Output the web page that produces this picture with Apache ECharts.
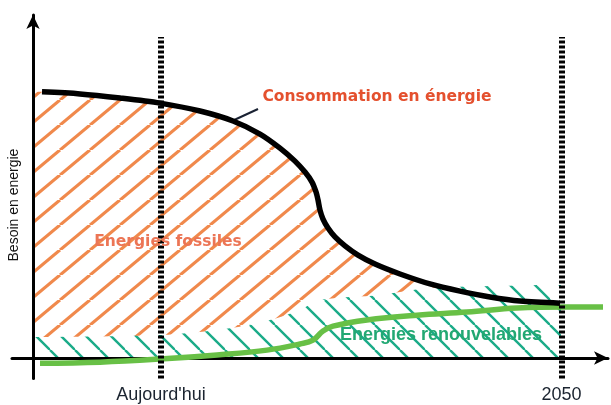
<!DOCTYPE html>
<html><head><meta charset="utf-8">
<script src="https://cdn.jsdelivr.net/npm/echarts@6/dist/echarts.min.js"></script>
<style>html,body{margin:0;padding:0;background:#fff}#c{width:611px;height:405px}</style>
</head><body><div id="c"></div>
<script>
// x: time (arbitrary units, 0 = y-axis), y: energy need (arbitrary units)
const consumptionX = [0.9, 4.7, 8.7, 12.7, 16.7, 20.0, 22.7, 24.7, 26.2, 27.2, 27.9, 28.3, 28.5, 28.7, 29.0, 29.5, 30.2, 31.2, 32.5, 34.2, 36.7, 39.7, 42.7, 45.7, 48.7, 52.7];
const consumptionY = [77.6, 77.0, 75.8, 74.3, 72.0, 69.1, 65.3, 61.2, 57.4, 54.2, 51.3, 48.4, 46.1, 43.1, 40.5, 37.9, 35.3, 32.7, 30.0, 27.4, 24.5, 21.6, 19.5, 17.8, 16.6, 16.0];
const fossilStartX = [0];
const fossilStartY = [77.8];
const renewAreaX = [0, 12.7, 19.7, 23.7, 26.7, 28.7, 34.7, 39.7, 45.7, 52.8, 52.8];
const renewAreaY = [6.1, 6.7, 8.7, 11.1, 14.0, 16.9, 18.4, 20.4, 21.0, 21.3, 0];
const renewX = [0.7, 6.7, 12.7, 18.4, 23.4, 26.7, 28.0, 29.0, 30.0, 33.4, 38.4, 43.4, 48.4, 53.4, 57.0];
const renewY = [-1.5, -1.2, -0.3, 0.9, 2.3, 4.1, 5.2, 7.9, 9.3, 11.1, 12.5, 13.4, 14.6, 14.9, 14.9];
const markerLabels = ["Aujourd'hui", "2050"];
const markerX = [12.8, 52.85];
const markerYRange = [-6, 93.6];
const yAxisName = "Besoin en energie";
const yAxisNamePos = [-1.9, 44.6];
const annotationTexts = ["Consommation en énergie", "Energies fossiles", "Energies renouvelables"];
const annotationX = [34.4, 13.5, 40.8];
const annotationY = [76.1, 33.8, 6.7];
const leaderX = [19.9, 22.5];
const leaderY = [69.1, 72.6];

function zip(xs, ys) { return xs.map((x, i) => [x, ys[i]]); }
function hatch(w, h, color, lw, rising, bg) {
  const c = document.createElement('canvas'); c.width = w; c.height = h;
  const g = c.getContext('2d');
  if (bg) { g.fillStyle = bg; g.fillRect(0, 0, w, h); }
  g.strokeStyle = color; g.lineWidth = lw;
  for (let k = -1; k <= 1; k++) {
    g.beginPath();
    if (rising) { g.moveTo(k * w, h); g.lineTo(k * w + w, 0); }
    else { g.moveTo(k * w, 0); g.lineTo(k * w + w, h); }
    g.stroke();
  }
  return c;
}
const orangePat = { image: hatch(30, 25, '#f0894c', 3.2, true, null), repeat: 'repeat' };
const greenPat = { image: hatch(25, 25, '#1aab88', 2.4, false, '#ffffff'), repeat: 'repeat' };

const consumption = zip(consumptionX, consumptionY);
const annColors = ['#e4502e', '#ec7555', '#22a873'];
const annFonts = [
  { fontFamily: 'DejaVu Sans', fontWeight: 'bold', fontSize: 15.5 },
  { fontFamily: 'DejaVu Sans', fontWeight: 'bold', fontSize: 15.5 },
  { fontFamily: 'Liberation Sans', fontWeight: 'bold', fontSize: 18 }
];
const annPoints = annotationTexts.map((t, i) => ({
  coord: [annotationX[i], annotationY[i]], value: t,
  label: Object.assign({ show: true, position: 'inside', formatter: t, color: annColors[i] }, annFonts[i])
}));
annPoints.push({
  coord: yAxisNamePos, value: yAxisName,
  label: { show: true, position: 'inside', formatter: yAxisName, rotate: 90, fontFamily: 'Liberation Sans', fontSize: 14, color: '#111' }
});

const chart = echarts.init(document.getElementById('c'));
chart.setOption({
  animation: false,
  grid: { left: 12, width: 596, top: 15, bottom: 26.4, containLabel: false, outerBoundsMode: 'none' },
  xAxis: {
    type: 'value', min: -2.1, max: 57.5, z: 3,
    axisLine: { onZero: true, lineStyle: { color: '#000', width: 3 }, symbol: ['none', 'arrow'], symbolSize: [10, 14] },
    axisTick: { show: false }, axisLabel: { show: false }, splitLine: { show: false }
  },
  yAxis: {
    type: 'value', min: -6, max: 100, z: 3,
    axisLine: { onZero: true, lineStyle: { color: '#000', width: 3 }, symbol: ['none', 'arrow'], symbolSize: [10, 14] },
    axisTick: { show: false }, axisLabel: { show: false }, splitLine: { show: false }
  },
  series: [
    {
      type: 'line', z: 1, smooth: 0.3, symbol: 'none', silent: true,
      data: zip(fossilStartX, fossilStartY).concat(consumption),
      lineStyle: { width: 0, opacity: 0 },
      areaStyle: { color: orangePat, opacity: 1 }
    },
    {
      type: 'line', z: 2, smooth: 0.3, symbol: 'none', silent: true,
      data: zip(renewAreaX, renewAreaY),
      lineStyle: { width: 0, opacity: 0 },
      areaStyle: { color: greenPat, opacity: 1 }
    },
    {
      type: 'line', z: 4, smooth: 0.4, symbol: 'none',
      data: zip(renewX, renewY),
      lineStyle: { color: '#68c046', width: 5.5 }
    },
    {
      type: 'line', z: 5, smooth: 0.3, symbol: 'none',
      data: consumption,
      lineStyle: { color: '#000', width: 5.5 }
    },
    {
      type: 'line', z: 6, data: [], symbol: 'none',
      markPoint: { symbol: 'circle', symbolSize: 0, silent: true, data: annPoints },
      markLine: {
        symbol: 'none', silent: true, label: { show: false },
        lineStyle: { type: 'solid', color: '#1a2233', width: 2 },
        data: [[{ coord: [leaderX[0], leaderY[0]] }, { coord: [leaderX[1], leaderY[1]] }]]
      }
    },
    {
      type: 'line', z: 7, data: [], symbol: 'none',
      markLine: {
        symbol: 'none', silent: true,
        lineStyle: { type: [3, 2], color: '#000', width: 6 },
        label: { show: true, position: 'start', distance: 7, fontFamily: 'Liberation Sans', fontSize: 18, color: '#1b2430' },
        data: markerX.map((x, i) => [
          { coord: [x, markerYRange[0]], name: markerLabels[i], label: { formatter: markerLabels[i] } },
          { coord: [x, markerYRange[1]] }
        ])
      }
    }
  ]
});
</script></body></html>
